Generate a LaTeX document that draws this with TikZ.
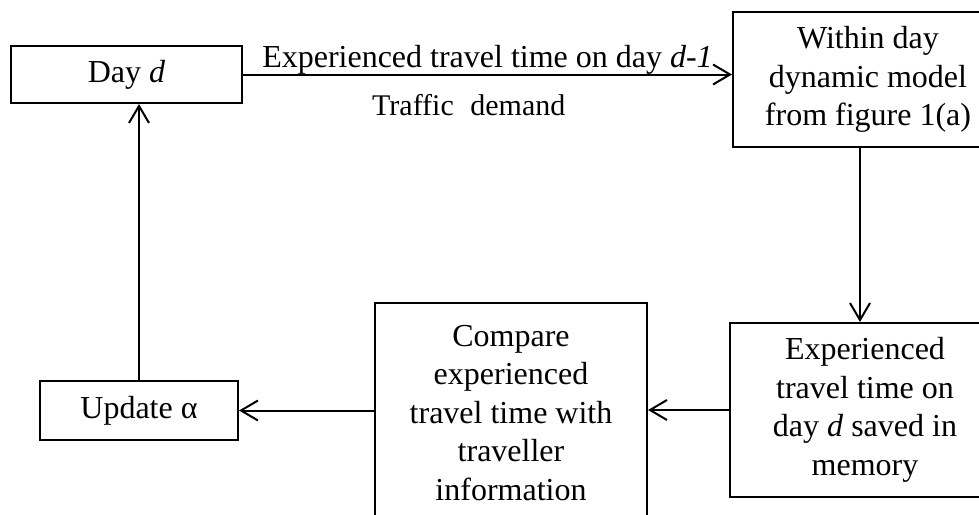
\documentclass[tikz,border=0pt]{standalone}
\usepackage{fontspec}
\setmainfont{Liberation Serif}
\usetikzlibrary{arrows.meta,calc}
\begin{document}
\begin{tikzpicture}[x=1pt,y=1pt,
  box/.style={draw,line width=2pt,inner sep=0pt,align=center,font=\fontsize{32}{38.5}\selectfont},
  conn/.style={line width=2pt,-{Straight Barb[length=17pt,width=20pt,line width=2pt]}},
  lbl/.style={inner sep=0pt,font=\fontsize{32}{38.5}\selectfont}]
\useasboundingbox (0,0) rectangle (979,-514);
\clip (0,0) rectangle (979,-514);
\fill[white] (0,0) rectangle (979,-514);
\node[box,minimum width=231pt,minimum height=57pt] (day) at (126.5,-74.5) {Day \textit{d}};
\node[box,minimum width=270pt,minimum height=135pt] (within) at (868,-79.5) {Within day\\dynamic model\\from figure 1(a)};
\node[box,minimum width=270pt,minimum height=174pt] (exp) at (865,-410) {Experienced\\travel time on\\day \textit{d} saved in\\memory};
\node[box,minimum width=272pt,minimum height=220pt] (cmp) at (511,-413) {Compare\\experienced\\travel time with\\traveller\\information};
\node[box,minimum width=198pt,minimum height=59pt] (upd) at (139,-410.5) {Update α};
\draw[conn] (day.east) -- (within.west |- day.east)
  node[lbl,midway,anchor=base,yshift=7pt] (l1) {Experienced travel time on day \textit{d-1}};
\node[lbl,anchor=base west,font=\fontsize{30}{36}\selectfont] (l2) at (372,-115) {Traffic\hspace{0.55em}demand};
\draw[conn] (within.south -| 860,0) -- (exp.north -| 860,0);
\draw[conn] (exp.west) -- (exp.west -| cmp.east);
\draw[conn] (upd.east -| cmp.west) -- (upd.east);
\draw[conn] (upd.north) -- (upd.north |- day.south);
\end{tikzpicture}
\end{document}
